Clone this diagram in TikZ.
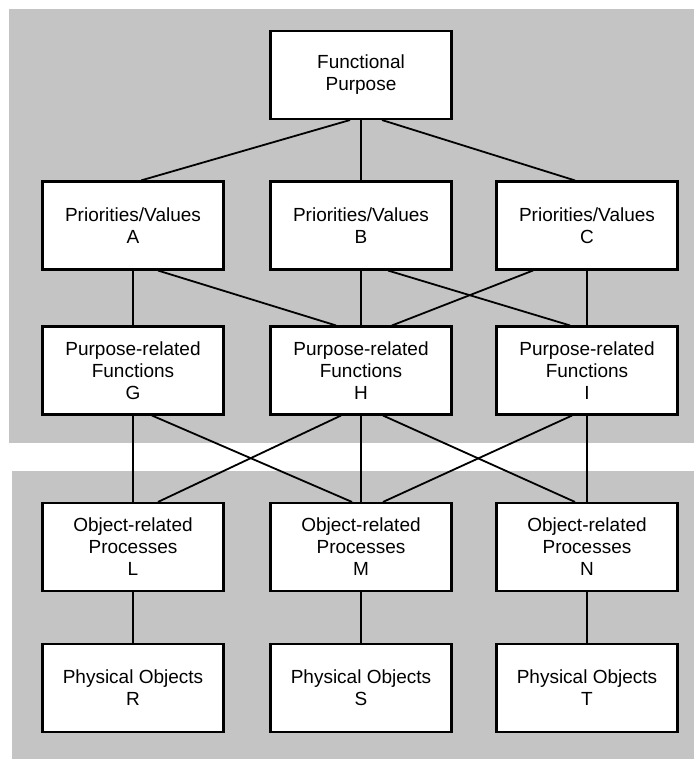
\documentclass[tikz,border=0pt]{standalone}
\usepackage{fontspec}
\setmainfont{Liberation Sans}
\usepackage{tikz}
\usetikzlibrary{shapes,backgrounds}
\definecolor{panelgray}{RGB}{196,196,196}
\tikzstyle{panel}=[fill=panelgray]
\tikzstyle{box}=[draw=black,fill=white,line width=2.1pt,minimum width=181pt,
minimum height=88pt,align=center,inner sep=0pt,font=\fontsize{19}{22}\selectfont]
\tikzstyle{line}=[black,line width=1.8pt]

\begin{document}
\begin{tikzpicture}[x=1pt,y=1pt]

	\useasboundingbox (0,0) rectangle (694,759);

	%panels
	\fill[panel] (9,316) rectangle (694,750);
	\fill[panel] (12,0) rectangle (694,288);

	%boxes
	\node[box] (fp) at (361,684) {Functional\\Purpose};

	\node[box] (pva) at (133,533.5) {Priorities/Values\\A};
	\node[box] (pvb) at (361,533.5) {Priorities/Values\\B};
	\node[box] (pvc) at (587,533.5) {Priorities/Values\\C};

	\node[box] (pfg) at (133,388.5) {Purpose-related\\Functions\\G};
	\node[box] (pfh) at (361,388.5) {Purpose-related\\Functions\\H};
	\node[box] (pfi) at (587,388.5) {Purpose-related\\Functions\\I};

	\node[box] (opl) at (133,212) {Object-related\\Processes\\L};
	\node[box] (opm) at (361,212) {Object-related\\Processes\\M};
	\node[box] (opn) at (587,212) {Object-related\\Processes\\N};

	\node[box] (pol) at (133,71) {Physical Objects\\R};
	\node[box] (pom) at (361,71) {Physical Objects\\S};
	\node[box] (pon) at (587,71) {Physical Objects\\T};

	%links
	\draw[line] ([xshift=-11pt]fp.south) -- ([xshift=8pt]pva.north);
	\draw[line] (fp.south) -- (pvb.north);
	\draw[line] ([xshift=21pt]fp.south) -- ([xshift=-12pt]pvc.north);

	\draw[line] (pva.south) -- (pfg.north);
	\draw[line] ([xshift=25pt]pva.south) -- ([xshift=-25pt]pfh.north);
	\draw[line] (pvb.south) -- (pfh.north);
	\draw[line] ([xshift=27pt]pvb.south) -- ([xshift=-17pt]pfi.north);
	\draw[line] ([xshift=-54pt]pvc.south) -- ([xshift=31pt]pfh.north);
	\draw[line] (pvc.south) -- (pfi.north);

	\draw[line] (pfg.south) -- (opl.north);
	\draw[line] ([xshift=19pt]pfg.south) -- ([xshift=-9pt]opm.north);
	\draw[line] ([xshift=-20pt]pfh.south) -- ([xshift=25pt]opl.north);
	\draw[line] (pfh.south) -- (opm.north);
	\draw[line] ([xshift=22pt]pfh.south) -- ([xshift=-12pt]opn.north);
	\draw[line] ([xshift=-15pt]pfi.south) -- ([xshift=22pt]opm.north);
	\draw[line] (pfi.south) -- (opn.north);

	\draw[line] (opl.south) -- (pol.north);
	\draw[line] (opm.south) -- (pom.north);
	\draw[line] (opn.south) -- (pon.north);
\end{tikzpicture}
\end{document}
